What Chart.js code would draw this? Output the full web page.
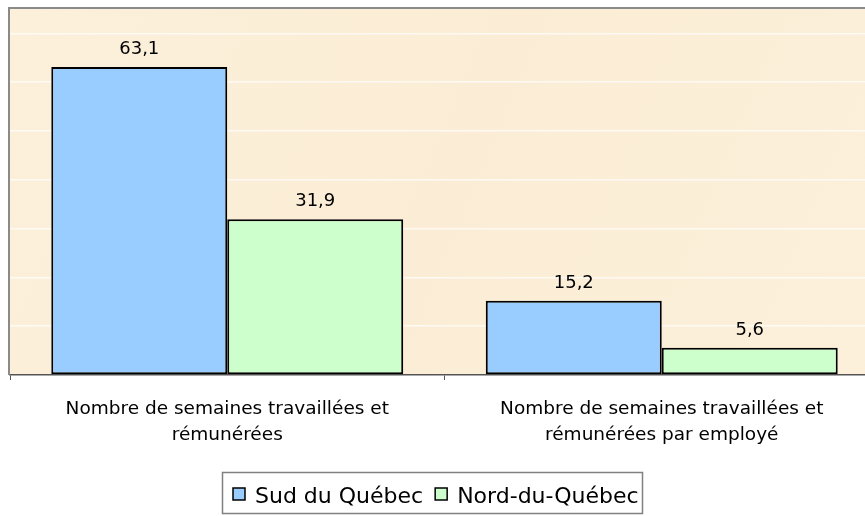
<!DOCTYPE html>
<html>
<head>
<meta charset="utf-8">
<script src="https://cdn.jsdelivr.net/npm/chart.js@4/dist/chart.umd.min.js"></script>
<style>
  html, body { margin: 0; padding: 0; background: #ffffff; overflow: hidden; }
  #wrap { width: 880px; height: 516px; }
</style>
</head>
<body>
<div id="wrap"><canvas id="c" width="880" height="516"></canvas></div>
<script>
const categories = [
  ['Nombre de semaines travaillées et', 'rémunérées'],
  ['Nombre de semaines travaillées et', 'rémunérées par employé']
];
const seriesNames = ['Sud du Québec', 'Nord-du-Québec'];
const sudValues = [63.1, 15.2];
const nordValues = [31.9, 5.6];
const seriesColors = ['#99CCFF', '#CCFFCC'];

const FONT = '"DejaVu Sans", Verdana, sans-serif';

const plotBg = {
  id: 'plotBg',
  beforeDraw(chart) {
    const {ctx, chartArea: a} = chart;
    ctx.save();
    const g = ctx.createLinearGradient(a.left, a.top, a.right, a.bottom);
    g.addColorStop(0, '#FCF0DB');
    g.addColorStop(0.5, '#FBEDD5');
    g.addColorStop(1, '#FCF0DB');
    ctx.fillStyle = g;
    ctx.fillRect(a.left, a.top, a.right - a.left, a.bottom - a.top);
    ctx.restore();
  },
  afterDraw(chart) {
    const {ctx, chartArea: a} = chart;
    ctx.save();
    ctx.strokeStyle = '#8a8a8a';
    ctx.lineWidth = 2;
    ctx.beginPath();
    ctx.moveTo(a.left - 1, a.bottom);
    ctx.lineTo(a.left - 1, a.top - 1);
    ctx.lineTo(a.right, a.top - 1);
    ctx.stroke();
    ctx.restore();
  }
};

const valueLabels = {
  id: 'valueLabels',
  afterDatasetsDraw(chart) {
    const {ctx} = chart;
    ctx.save();
    ctx.font = '18px ' + FONT;
    ctx.fillStyle = '#000';
    ctx.textAlign = 'center';
    ctx.textBaseline = 'alphabetic';
    chart.data.datasets.forEach((ds, i) => {
      chart.getDatasetMeta(i).data.forEach((bar, j) => {
        const txt = ds.data[j].toFixed(1).replace('.', ',');
        ctx.fillText(txt, bar.x, bar.y - 13);
      });
    });
    ctx.restore();
  }
};

const boxLegend = {
  id: 'boxLegend',
  afterDraw(chart) {
    const {ctx} = chart;
    ctx.save();
    ctx.strokeStyle = '#808080';
    ctx.lineWidth = 1.5;
    ctx.strokeRect(222.5, 472.5, 420, 41);
    ctx.font = '22px ' + FONT;
    ctx.textBaseline = 'alphabetic';
    ctx.textAlign = 'left';
    let x = 233;
    chart.data.datasets.forEach((ds) => {
      ctx.fillStyle = ds.backgroundColor;
      ctx.fillRect(x, 488, 12, 12);
      ctx.strokeStyle = '#000';
      ctx.lineWidth = 1.5;
      ctx.strokeRect(x, 488, 12, 12);
      ctx.fillStyle = '#000';
      ctx.fillText(ds.label, x + 22, 503);
      x += 22 + ctx.measureText(ds.label).width + 12;
    });
    ctx.restore();
  }
};

new Chart(document.getElementById('c'), {
  type: 'bar',
  data: {
    labels: categories,
    datasets: [
      { label: seriesNames[0], data: sudValues, backgroundColor: seriesColors[0],
        borderColor: '#000', borderWidth: 2, borderSkipped: false },
      { label: seriesNames[1], data: nordValues, backgroundColor: seriesColors[1],
        borderColor: '#000', borderWidth: 2, borderSkipped: false }
    ]
  },
  options: {
    responsive: false,
    devicePixelRatio: 1,
    animation: false,
    layout: { padding: { left: 10, top: 9, right: 1, bottom: 0 } },
    plugins: { legend: { display: false }, tooltip: { enabled: false } },
    datasets: { bar: { barPercentage: 1, categoryPercentage: 0.81 } },
    scales: {
      x: {
        grid: { offset: true, drawOnChartArea: false, tickLength: 5, color: '#555', lineWidth: 1 },
        border: { color: '#555', width: 1.5 },
        ticks: { color: '#000', font: { family: FONT, size: 18.5, lineHeight: 1.41 }, padding: 16, maxRotation: 0, autoSkip: false },
        afterFit(s) { s.height = 141; }
      },
      y: {
        min: 0, max: 75,
        ticks: { display: false, stepSize: 10 },
        afterBuildTicks(s) { s.ticks = s.ticks.filter(t => t.value % 10 === 0); },
        grid: {
          drawTicks: false,
          color: (c) => (c.tick && c.tick.value > 0 && c.tick.value < 75) ? 'rgba(255,255,255,0.7)' : 'rgba(0,0,0,0)',
          lineWidth: 1.5
        },
        border: { display: false },
        afterFit(s) { s.width = 0; }
      }
    }
  },
  plugins: [plotBg, valueLabels, boxLegend]
});
</script>
</body>
</html>
